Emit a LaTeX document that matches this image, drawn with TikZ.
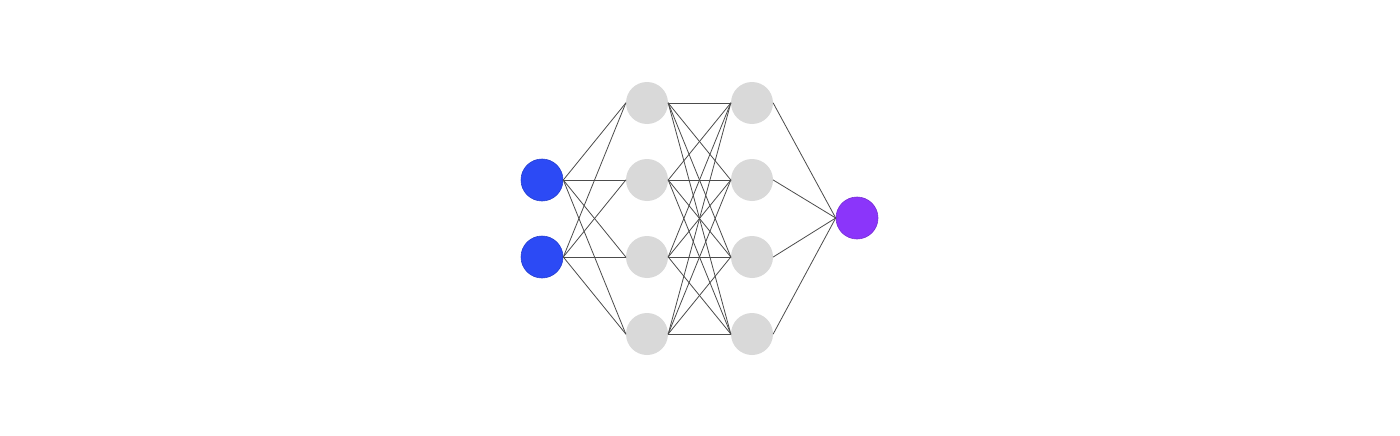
\documentclass[tikz,border=0pt]{standalone}
\definecolor{inblue}{HTML}{2C4AF5}
\definecolor{outpurple}{HTML}{8B35FA}
\definecolor{hidgray}{HTML}{D9D9D9}
\begin{document}
\begin{tikzpicture}[
	x=1pt,y=-1pt,
	line cap=round,
	line join=round,
	neuron/.style={circle,minimum size=42pt,inner sep=0pt},
	input/.style={neuron,fill=inblue,draw=inblue!85!black,line width=0.6pt},
	hidden/.style={neuron,fill=hidgray},
	output/.style={neuron,fill=outpurple,draw=outpurple!85!black,line width=0.6pt},
	wire/.style={draw=black!70,line width=0.8pt}
	]
	\useasboundingbox[fill=white] (0,0) rectangle (1400,436);
	% layers
	\node[input] (i1) at (542,180) {};
	\node[input] (i2) at (542,257) {};
	\foreach \k/\y in {1/103,2/180,3/257,4/334} {
		\node[hidden] (a\k) at (647,\y) {};
		\node[hidden] (b\k) at (752,\y) {};
	}
	\node[output] (o) at (857,218) {};
	% connections
	\foreach \i in {1,2}
		\foreach \j in {1,...,4}
			\draw[wire] (i\i.east) -- (a\j.west);
	\foreach \i in {1,...,4}
		\foreach \j in {1,...,4}
			\draw[wire] (a\i.east) -- (b\j.west);
	\foreach \i in {1,...,4}
		\draw[wire] (b\i.east) -- (o.west);
\end{tikzpicture}
\end{document}
